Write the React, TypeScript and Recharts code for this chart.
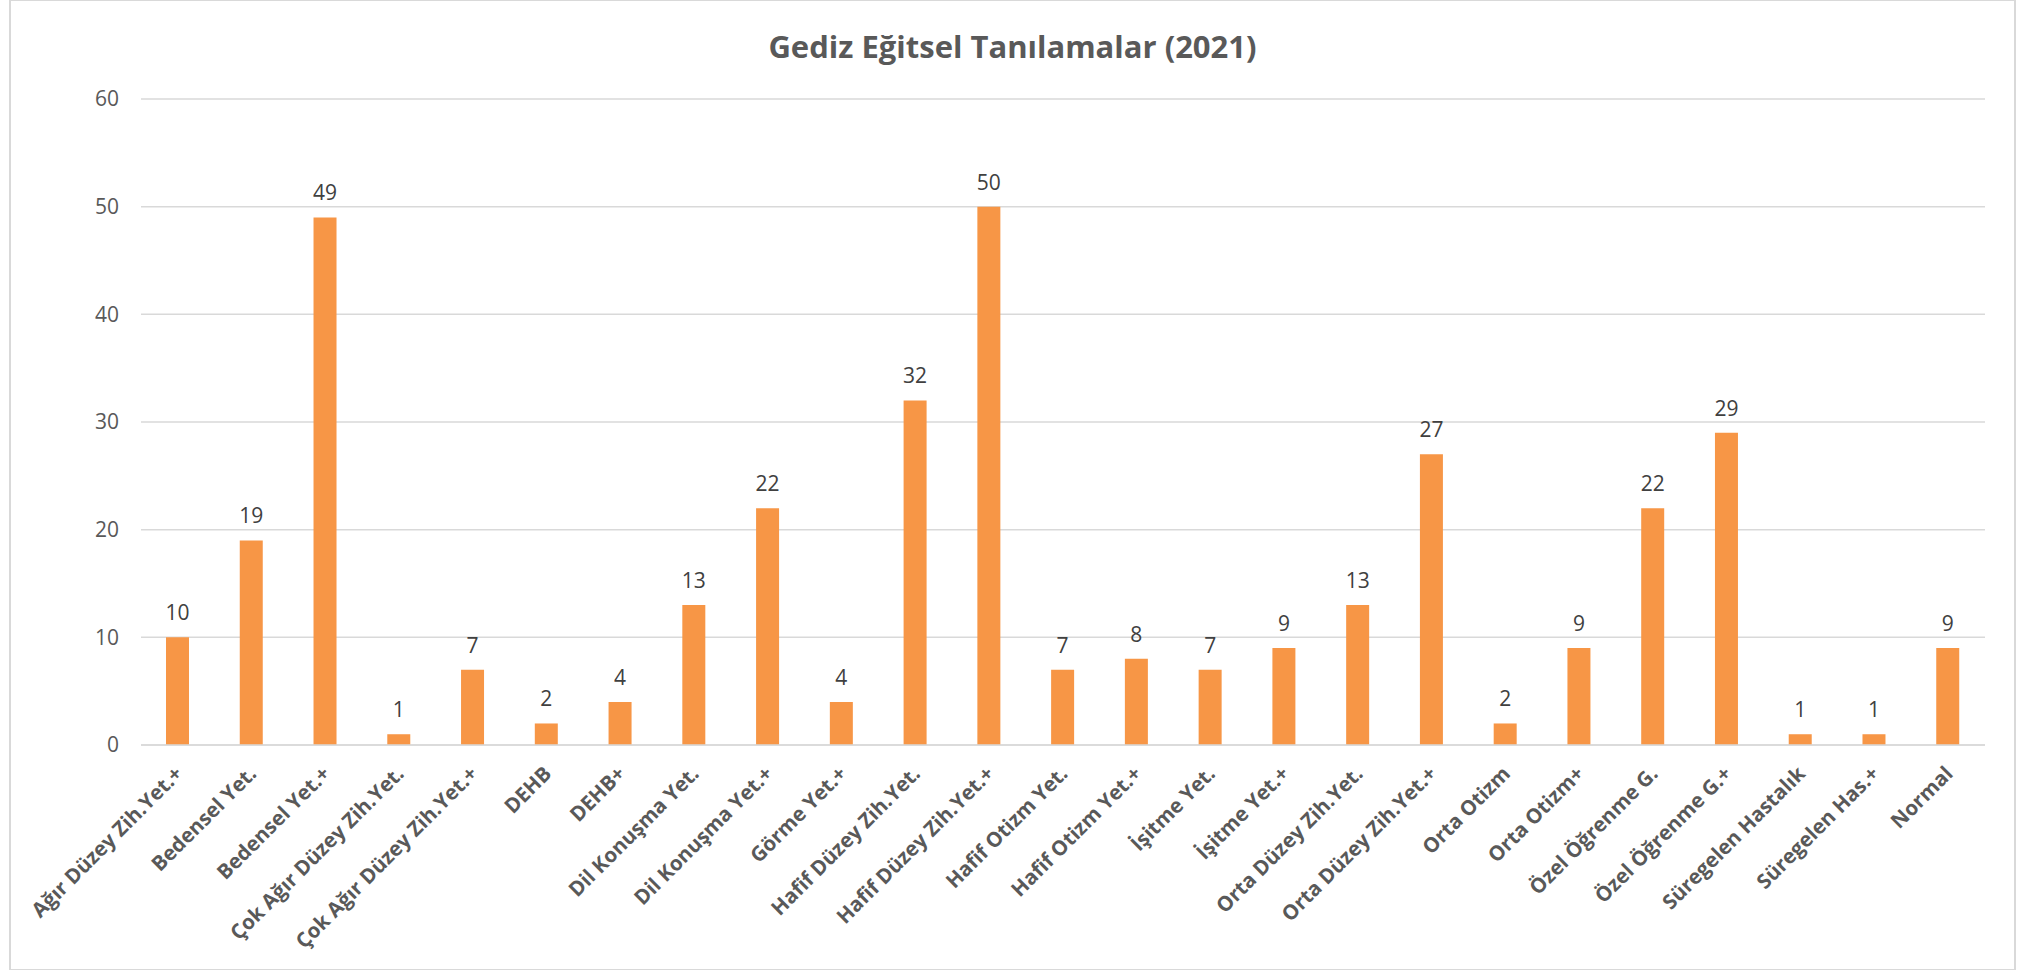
import { BarChart, Bar, XAxis, YAxis, CartesianGrid, LabelList } from 'recharts';

const categories = [
    'Ağır Düzey Zih.Yet.+',
    'Bedensel Yet.',
    'Bedensel Yet.+',
    'Çok Ağır Düzey Zih.Yet.',
    'Çok Ağır Düzey Zih.Yet.+',
    'DEHB',
    'DEHB+',
    'Dil Konuşma Yet.',
    'Dil Konuşma Yet.+',
    'Görme Yet.+',
    'Hafif Düzey Zih.Yet.',
    'Hafif Düzey Zih.Yet.+',
    'Hafif Otizm Yet.',
    'Hafif Otizm Yet.+',
    'İşitme Yet.',
    'İşitme Yet.+',
    'Orta Düzey Zih.Yet.',
    'Orta Düzey Zih.Yet.+',
    'Orta Otizm',
    'Orta Otizm+',
    'Özel Öğrenme G.',
    'Özel Öğrenme G.+',
    'Süregelen Hastalık',
    'Süregelen Has.+',
    'Normal',
];

const counts = [10, 19, 49, 1, 7, 2, 4, 13, 22, 4, 32, 50, 7, 8, 7, 9, 13, 27, 2, 9, 22, 29, 1, 1, 9];

const yTicks = [0, 10, 20, 30, 40, 50, 60];

const FONT = '"Open Sans", sans-serif';
const GRAY = '#595959';

const data = categories.map((name, i) => ({ name, value: counts[i] }));

// rotated category label, anchored at its end just under the axis
const CategoryTick = ({ x, y, payload }: { x?: number; y?: number; payload?: { value: string } }) => {
    const ax = (x ?? 0) + 6;
    const ay = (y ?? 0) + 22;
    return (
        <text
            x={ax}
            y={ay}
            transform={`rotate(-45, ${ax}, ${ay})`}
            textAnchor="end"
            fill={GRAY}
            fontSize={20.5}
            fontWeight={700}
            fontFamily={FONT}
        >
            {payload?.value}
        </text>
    );
};

export default function App() {
    return (
        <div style={{ position: 'absolute', left: 0, top: 0, width: 2035, height: 970, background: '#fff' }}>
            {/* outer frame */}
            <div
                style={{
                    position: 'absolute',
                    left: 9,
                    top: -1,
                    width: 2003,
                    height: 968,
                    border: '2px solid #d9d9d9',
                }}
            />
            <div
                style={{
                    position: 'absolute',
                    left: 0,
                    top: 25,
                    width: 2025,
                    textAlign: 'center',
                    fontFamily: FONT,
                    fontWeight: 700,
                    fontSize: 31,
                    color: GRAY,
                    lineHeight: '42px',
                }}
            >
                Gediz Eğitsel Tanılamalar (2021)
            </div>
            <div style={{ position: 'absolute', left: 0, top: 0 }}>
                <BarChart
                    width={2035}
                    height={970}
                    data={data}
                    margin={{ top: 99, right: 50, left: 81, bottom: 25 }}
                >
                    <CartesianGrid vertical={false} stroke="#d9d9d9" strokeWidth={1.5} />
                    <XAxis
                        dataKey="name"
                        interval={0}
                        height={200}
                        axisLine={{ stroke: '#d9d9d9', strokeWidth: 1.5 }}
                        tickLine={false}
                        tick={<CategoryTick />}
                    />
                    <YAxis
                        domain={[0, 60]}
                        ticks={yTicks}
                        width={60}
                        axisLine={false}
                        tickLine={false}
                        tickSize={0}
                        tickMargin={22}
                        tick={{ fill: GRAY, fontSize: 21, fontFamily: FONT }}
                    />
                    <Bar dataKey="value" fill="#F79646" barSize={23} isAnimationActive={false}>
                        <LabelList
                            dataKey="value"
                            position="top"
                            offset={17}
                            fill="#404040"
                            fontSize={21}
                            fontFamily={FONT}
                        />
                    </Bar>
                </BarChart>
            </div>
        </div>
    );
}
